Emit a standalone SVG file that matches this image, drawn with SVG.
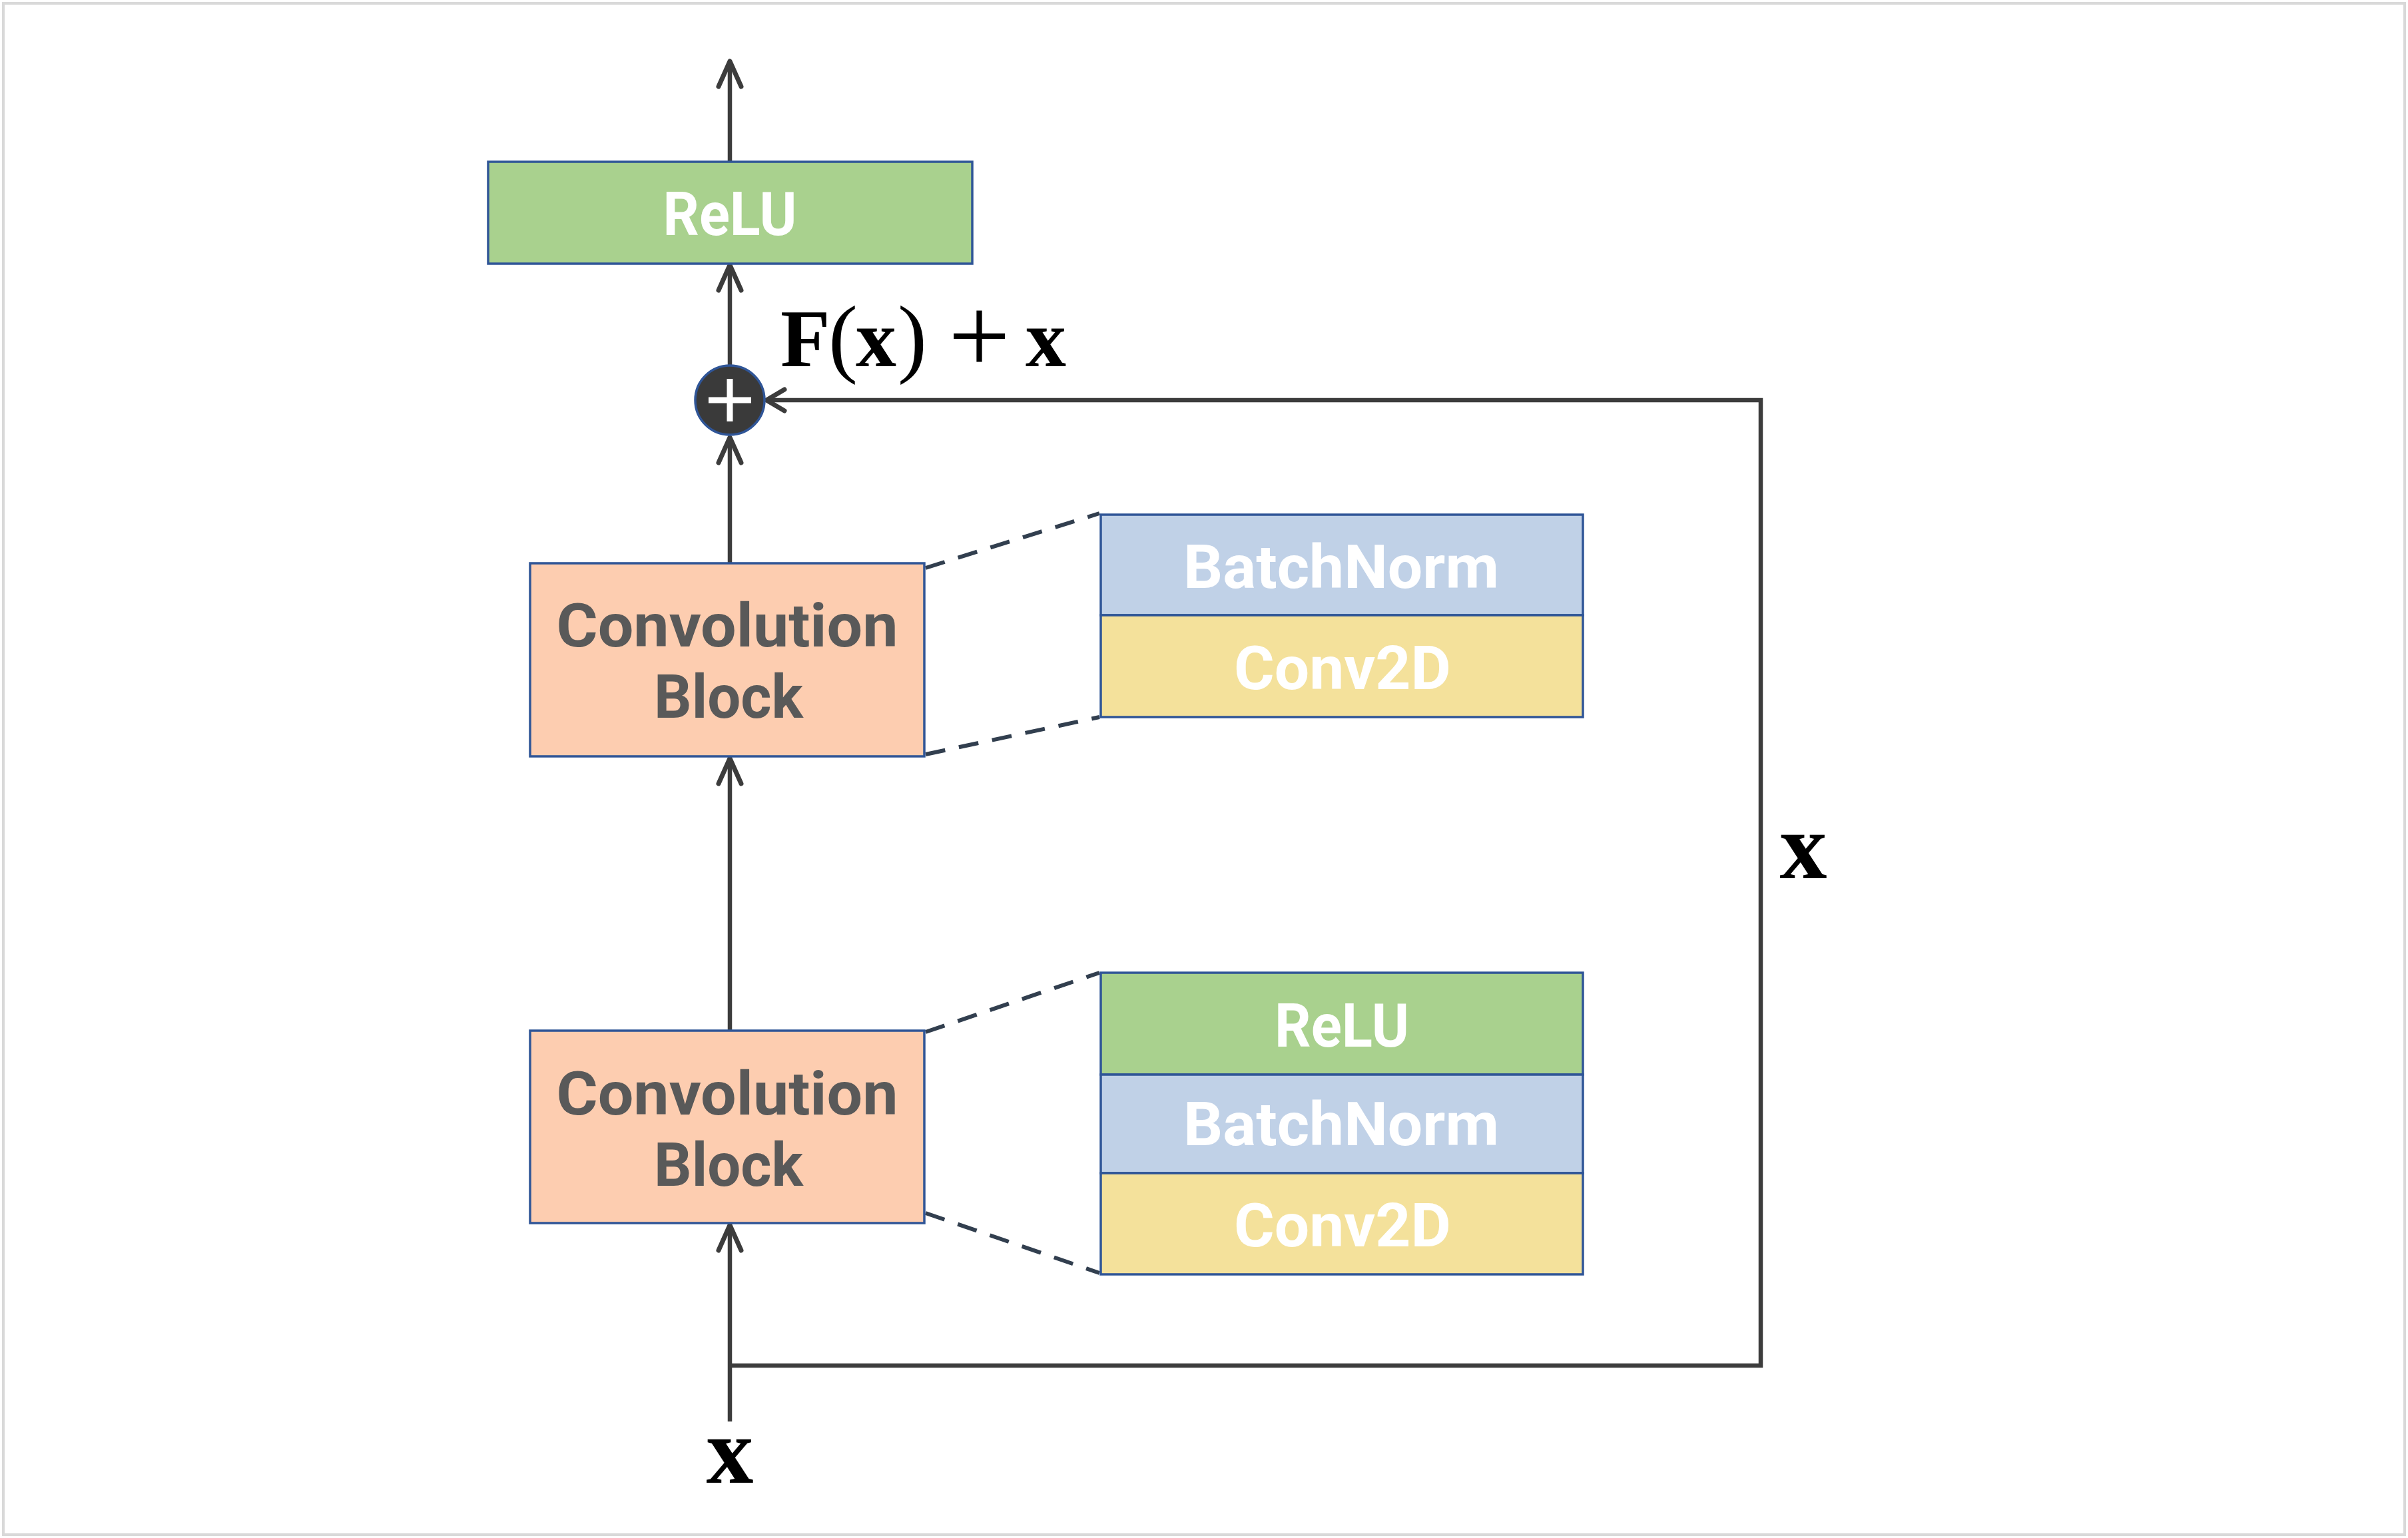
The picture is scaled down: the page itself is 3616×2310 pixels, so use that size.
<svg xmlns="http://www.w3.org/2000/svg" width="3616" height="2310" viewBox="0 0 3616 2310">
<style>
.box{stroke:#2f5597;stroke-width:3.5}
.relu{fill:#a9d18e}
.bn{fill:#c0d1e7}
.cv{fill:#f4e19b}
.blk{fill:#fdcdb0}
.wt{font-family:Roboto,"Open Sans","DejaVu Sans",sans-serif;font-weight:bold;font-size:90px;fill:#ffffff;text-anchor:middle}
.gt{font-family:Roboto,"Open Sans","DejaVu Sans",sans-serif;font-weight:bold;font-size:90px;fill:#595959;text-anchor:middle}
.math{font-family:"Liberation Serif","Times New Roman",serif;font-weight:bold;fill:#000000}
.thin{font-weight:normal}
.wire{fill:none;stroke:#3c3c3c;stroke-width:6.5}
.dash{fill:none;stroke:#323f4f;stroke-width:6;stroke-dasharray:30 21}
</style>
<defs>
<marker id="arr" markerUnits="userSpaceOnUse" markerWidth="80" markerHeight="80" viewBox="-50 -40 80 80" refX="0" refY="0" orient="auto" overflow="visible">
<path d="M-38,-17 L0,0 L-38,17" fill="none" stroke="#3c3c3c" stroke-width="7" stroke-linecap="round" stroke-linejoin="round"/>
</marker>
<marker id="arrs" markerUnits="userSpaceOnUse" markerWidth="80" markerHeight="80" viewBox="-50 -40 80 80" refX="0" refY="0" orient="auto" overflow="visible">
<path d="M-27,-16 L0,0 L-27,16" fill="none" stroke="#3c3c3c" stroke-width="7" stroke-linecap="round" stroke-linejoin="round"/>
</marker>
</defs>
<rect x="0" y="0" width="3616" height="2310" fill="#ffffff"/>
<rect x="5" y="5" width="3606" height="2300" fill="none" stroke="#d9d9d9" stroke-width="4"/>

<g id="connectors">
<path class="wire" d="M1096,243 L1096,92" marker-end="url(#arr)"/>
<path class="wire" d="M1096,548 L1096,398" marker-end="url(#arr)"/>
<path class="wire" d="M1096,846 L1096,657" marker-end="url(#arr)"/>
<path class="wire" d="M1096,1548 L1096,1139" marker-end="url(#arr)"/>
<path class="wire" d="M1096,2135 L1096,1840" marker-end="url(#arr)"/>
<path class="wire" d="M1096,2051 L2644,2051 L2644,601 L1151,601" marker-end="url(#arrs)"/>
<path class="dash" d="M1390,853 L1651,771"/>
<path class="dash" d="M1390,1133 L1651,1077"/>
<path class="dash" d="M1390,1550 L1651,1461"/>
<path class="dash" d="M1390,1822 L1651,1912"/>
</g>

<g id="node-relu-out">
<rect class="box relu" x="733" y="243" width="727" height="153"/>
<text class="wt" x="1096" y="353" textLength="201" lengthAdjust="spacingAndGlyphs">ReLU</text>
</g>

<g id="node-add">
<circle cx="1096" cy="601" r="52" fill="#3a3a3a" stroke="#2f5597" stroke-width="3.5"/>
<path d="M1064,601 L1128,601 M1096,569 L1096,633" stroke="#ffffff" stroke-width="9" fill="none"/>
</g>

<g id="node-conv-block-1">
<rect class="box blk" x="796" y="846" width="592" height="290"/>
<text class="gt"><tspan x="1092" y="971" textLength="513" lengthAdjust="spacingAndGlyphs">Convolution</tspan><tspan x="1094" y="1078" textLength="224" lengthAdjust="spacingAndGlyphs">Block</tspan></text>
</g>

<g id="node-detail-1">
<rect class="box bn" x="1653" y="773" width="724" height="151"/>
<text class="wt" x="2014" y="883" textLength="474" lengthAdjust="spacingAndGlyphs">BatchNorm</text>
<rect class="box cv" x="1653" y="924" width="724" height="153"/>
<text class="wt" x="2016" y="1035" textLength="326" lengthAdjust="spacingAndGlyphs">Conv2D</text>
</g>

<g id="node-conv-block-2">
<rect class="box blk" x="796" y="1548" width="592" height="289"/>
<text class="gt"><tspan x="1092" y="1674" textLength="513" lengthAdjust="spacingAndGlyphs">Convolution</tspan><tspan x="1094" y="1781" textLength="224" lengthAdjust="spacingAndGlyphs">Block</tspan></text>
</g>

<g id="node-detail-2">
<rect class="box relu" x="1653" y="1461" width="724" height="153"/>
<text class="wt" x="2015" y="1572" textLength="202" lengthAdjust="spacingAndGlyphs">ReLU</text>
<rect class="box bn" x="1653" y="1614" width="724" height="148"/>
<text class="wt" x="2014" y="1720" textLength="474" lengthAdjust="spacingAndGlyphs">BatchNorm</text>
<rect class="box cv" x="1653" y="1762" width="724" height="152"/>
<text class="wt" x="2016" y="1872" textLength="326" lengthAdjust="spacingAndGlyphs">Conv2D</text>
</g>

<g id="labels">
<text class="math" font-size="122" y="550"><tspan x="1172">F</tspan><tspan class="thin" x="1244" font-size="132">(</tspan><tspan x="1285">x</tspan><tspan class="thin" x="1348" font-size="132">)</tspan><tspan class="thin" x="1424" y="560" font-size="165">+</tspan><tspan x="1540" y="550">x</tspan></text>
<text class="math" font-size="142" x="2708" y="1319" text-anchor="middle">x</text>
<text class="math" font-size="142" x="1096" y="2227" text-anchor="middle">x</text>
</g>
</svg>
